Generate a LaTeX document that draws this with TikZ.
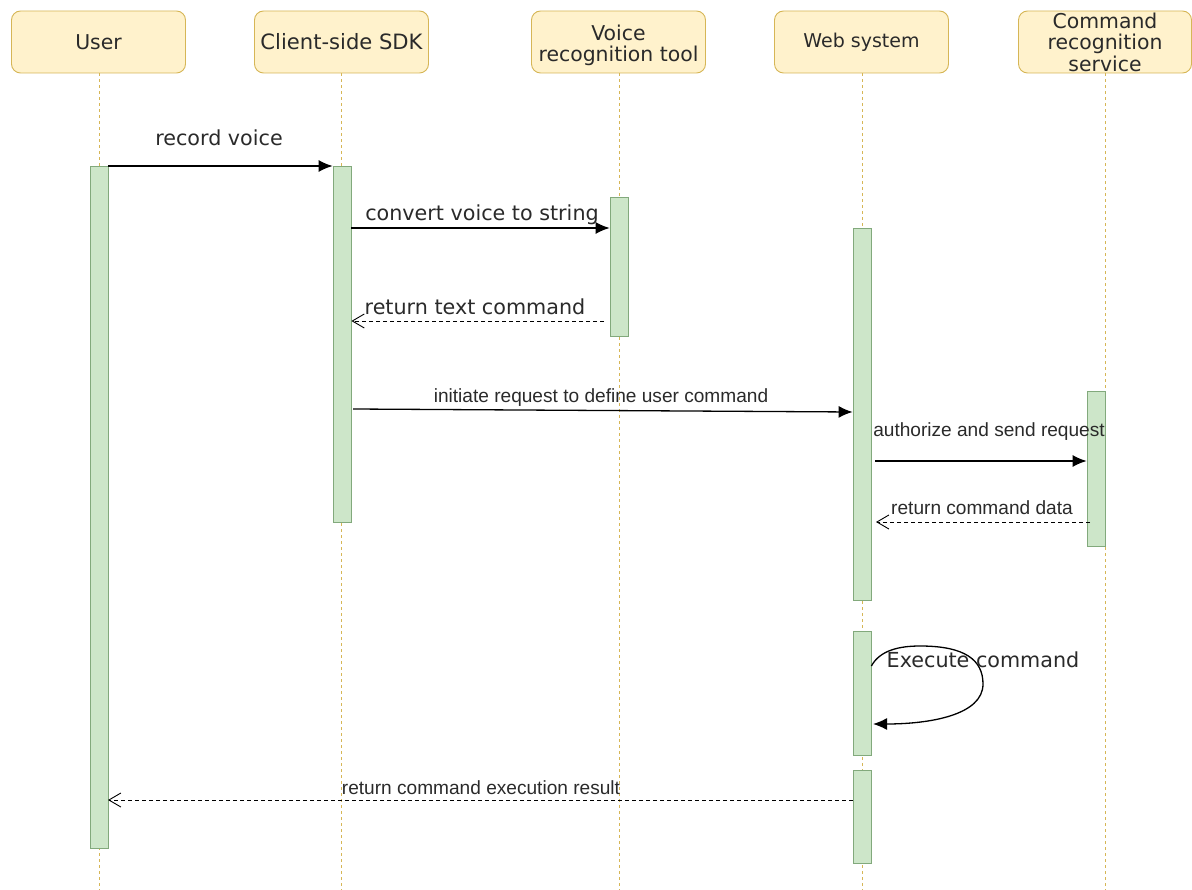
\documentclass[tikz,border=0pt]{standalone}
\usepackage{fontspec}
\setmainfont{DejaVu Sans}
\newfontfamily\arialf{Liberation Sans}
\usetikzlibrary{arrows.meta}
\definecolor{headfill}{HTML}{FFF2CC}
\definecolor{headline}{HTML}{D6B656}
\definecolor{barfill}{HTML}{CDE6C9}
\definecolor{barline}{HTML}{82A97C}
\definecolor{inktext}{HTML}{2A2A2A}
\tikzset{
  x=1pt,y=-1pt,
  head/.style={draw=headline,fill=headfill,rounded corners=9pt,line width=0.9pt,minimum width=174pt,minimum height=62pt,inner sep=0pt,align=center,text=inktext,font=\fontsize{20.4}{21.5}\selectfont},
  life/.style={draw=headline,line width=0.9pt,dash pattern=on 3pt off 3pt},
  bar/.style={draw=barline,fill=barfill,line width=0.8pt,minimum width=18pt,inner sep=0pt},
  msg/.style={draw=black,line width=1.3pt,-{Latex[length=14pt,width=12pt]}},
  ret/.style={draw=black,line width=0.9pt,dash pattern=on 4pt off 3pt,-{Straight Barb[length=12pt,width=14pt,line width=0.9pt]}},
  big/.style={text=inktext,inner sep=0pt,font=\fontsize{20.7}{24}\selectfont},
  small/.style={text=inktext,inner sep=0pt,font=\arialf\fontsize{19.1}{22}\selectfont},
}
\begin{document}
\begin{tikzpicture}
\useasboundingbox (0,0) rectangle (1192,890);
\node[head] (h1) at (98.5,42) {User};
\node[head,font=\fontsize{21.1}{21.5}\selectfont] (h2) at (341.5,42) {Client-side SDK};
\node[head] (h3) at (618.5,42) {\rule{0pt}{22pt}Voice\\recognition tool};
\node[head,font=\fontsize{19}{21.5}\selectfont] (h4) at (861.5,42) {Web system};
\node[head,minimum width=173pt] (h5) at (1105,42) {Command\\recognition\\service};
\coordinate (e1) at (99,890);
\coordinate (e2) at (341,890);
\coordinate (e3) at (619,890);
\coordinate (e4) at (862,890);
\coordinate (e5) at (1105,890);
\draw[life] (h1.south -| e1) -- (e1);
\draw[life] (h2.south -| e2) -- (e2);
\draw[life] (h3.south -| e3) -- (e3);
\draw[life] (h4.south -| e4) -- (e4);
\draw[life] (h5.south -| e5) -- (e5);
\node[bar,minimum height=682pt] (a1) at (99,507) {};
\node[bar,minimum height=356pt] (a2) at (342,344) {};
\node[bar,minimum height=139pt] (a3) at (619,266.5) {};
\node[bar,minimum height=372pt] (a4) at (862,414) {};
\node[bar,minimum height=124pt] (a5) at (862,693) {};
\node[bar,minimum height=93pt] (a6) at (862,816.5) {};
\node[bar,minimum height=155pt] (a7) at (1096,468.5) {};
% messages
\draw[msg] (a1.east |- 0,166) -- (a2.west |- 0,166);
\node[big] (t1) at (219,138) {record voice};
\draw[msg] (a2.east |- 0,228) -- (a3.west |- 0,228);
\node[big] (t2) at (482,215) {convert voice to string};
\coordinate (m3s) at (604,321);
\draw[ret] (m3s) -- (a2.east |- m3s);
\node[big] (t3) at (475,307) {return text command};
\coordinate (m4s) at (353,409);
\draw[msg] (m4s) -- (a4.west |- 0,412);
\node[small] (t4) at (601,398) {initiate request to define user command};
\coordinate (m5s) at (875,461);
\draw[msg] (m5s) -- (a7.west |- m5s);
\node[small] (t5) at (989,432) {authorize and send request};
\coordinate (m6s) at (1090,522);
\coordinate (m6e) at (876,522);
\draw[ret] (m6s) -- (m6e);
\node[small] (t6) at (982,508) {return command data};
\coordinate (m7e) at (873,724);
\draw[msg] (a5.east |- 0,666) .. controls (880,650) and (900,646) .. (920,646) .. controls (965,646) and (983,660) .. (983,684) .. controls (983,715) and (930,724) .. (m7e);
\node[big] (t7) at (983,660) {Execute command};
\coordinate (m8e) at (108,800);
\draw[ret] (a6.west |- m8e) -- (m8e);
\node[small] (t8) at (481,788) {return command execution result};
\end{tikzpicture}
\end{document}
